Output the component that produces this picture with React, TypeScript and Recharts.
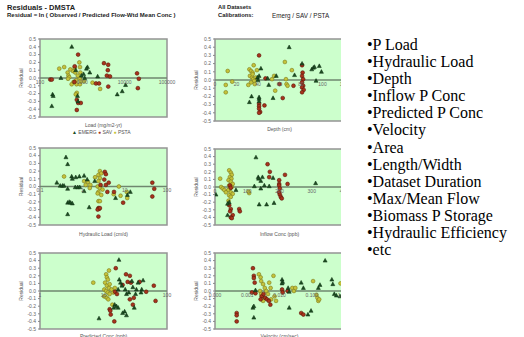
import { ReferenceArea, ReferenceLine, Scatter, ScatterChart, XAxis, YAxis } from "recharts";

type Pt = [number, number];

// residual = ln(observed / predicted), plotted against each site attribute
const loadEmerg: Pt[] = [[563, 0.40], [198, -0.21], [205, -0.23], [190, -0.36], [312, 0.0], [770, -0.23], [790, -0.30], [1320, 0.14], [1250, 0.12], [1070, 0.05], [1140, 0.0], [950, 0.03], [1500, 0.07], [6670, -0.21], [8750, -0.17], [10500, -0.09], [2300, 0.02], [700, 0.10]];
const loadSav: Pt[] = [[795, 0.30], [3240, 0.19], [4080, 0.17], [4000, 0.10], [3800, 0.03], [4500, 0.02], [4100, -0.11], [19600, 0.06], [21600, -0.01], [20500, -0.13], [2100, -0.07], [2480, -0.07], [740, -0.28], [800, -0.32], [920, -0.32], [740, -0.41], [175, -0.02], [190, -0.02], [660, 0.15], [650, -0.05]];
const loadPsta: Pt[] = [[285, 0.12], [373, 0.14], [450, 0.07], [470, 0.03], [490, 0.01], [460, -0.01], [600, 0.09], [660, 0.13], [680, 0.07], [720, -0.03], [730, -0.08], [850, 0.20], [880, 0.14], [900, 0.07], [870, 0.0], [920, -0.04], [880, -0.08], [560, -0.08], [620, -0.05], [740, -0.19], [700, -0.21], [1740, -0.06], [2630, -0.14], [1100, -0.04], [520, 0.11], [780, 0.03]];

const depthEmerg: Pt[] = [[69, 0.40], [42.7, 0.14], [41, 0.05], [39.5, 0.03], [32, -0.27], [34, -0.20], [41, -0.21], [41, -0.23], [41, -0.26], [50, -0.06], [54, -0.22], [49, 0.02], [74, 0.06], [81, 0.20], [90, 0.13], [91.5, 0.15], [92.5, 0.16], [97, 0.17], [99, 0.10], [94, -0.01], [57, 0.05], [40, 0.0]];
const depthSav: Pt[] = [[41, 0.30], [41, -0.29], [41, -0.32], [41, -0.35], [42, -0.39], [41, -0.40], [46, -0.31], [47, 0.02], [63, -0.22], [73, -0.07], [81, 0.18], [81.5, 0.09], [81, 0.05], [82, 0.01], [81, -0.03], [82, -0.07], [81, -0.09], [82.5, -0.12], [81, -0.15], [60, -0.05]];
const depthPsta: Pt[] = [[11.8, 0.11], [10, -0.06], [10, -0.15], [16, -0.02], [32, 0.13], [33.5, 0.11], [35, 0.09], [32.5, 0.05], [34.5, 0.03], [35.5, 0.01], [36.5, -0.01], [33.5, -0.03], [31, -0.06], [36, 0.18], [35, 0.07], [38, 0.03], [37, -0.05], [53, 0.01], [55, 0.05], [56, -0.13], [65, 0.22], [66, 0.01], [66.5, -0.05], [67.5, -0.07], [71.5, 0.12], [39, 0.12]];

const hlrEmerg: Pt[] = [[0.41, 0.38], [0.45, 0.29], [0.25, 0.05], [0.3, 0.01], [0.34, 0.01], [0.37, 0.01], [0.45, -0.03], [0.56, 0.13], [0.58, 0.10], [0.7, 0.12], [0.85, 0.13], [1.1, 0.14], [0.68, -0.01], [0.78, -0.01], [0.87, -0.01], [0.45, -0.21], [0.49, -0.20], [0.53, -0.21], [0.58, -0.22], [0.45, -0.36], [1.1, -0.06], [1.45, -0.27], [1.96, 0.07], [6.1, -0.15], [11.6, -0.11], [13.6, -0.07], [1.3, 0.09]];
const hlrSav: Pt[] = [[3.4, 0.19], [3.6, 0.16], [3.3, 0.09], [2.7, 0.02], [3.6, 0.02], [3.9, -0.07], [2.4, -0.28], [2.5, -0.29], [2.3, -0.30], [2.6, -0.28], [2.4, -0.39], [5.6, -0.07], [9.2, -0.21], [45, 0.05], [50, -0.03], [45, -0.13], [4.2, 0.05]];
const hlrPsta: Pt[] = [[0.37, 0.13], [1.1, 0.07], [1.35, 0.06], [1.55, 0.02], [1.5, -0.02], [1.2, 0.02], [2.4, 0.15], [2.6, 0.20], [2.8, 0.17], [2.6, 0.11], [2.4, 0.07], [2.3, 0.0], [2.6, -0.02], [2.4, -0.07], [2.3, -0.09], [2.8, -0.11], [3.0, -0.04], [2.4, -0.19], [2.6, -0.19], [7.3, 0.0], [8.0, -0.12], [11.5, -0.15], [11.2, -0.07], [5.5, -0.10], [2.0, 0.12]];

const inflowEmerg: Pt[] = [[127, 0.39], [122, 0.01], [134, 0.13], [135, 0.11], [142, 0.08], [147, 0.13], [142, -0.02], [153, 0.02], [137, -0.23], [160, -0.23], [183, -0.21], [180, 0.12], [168, 0.01], [312, 0.05], [65, -0.04], [44, -0.20], [39, -0.22], [3, -0.10], [39, -0.37]];
const inflowSav: Pt[] = [[49, -0.29], [47, -0.32], [55, -0.37], [49, -0.40], [52, -0.41], [44, -0.24], [75, -0.29], [77, -0.32], [46, 0.02], [49, -0.01], [163, 0.30], [170, 0.20], [168, 0.13], [199, 0.09], [199, 0.04], [199, 0.02], [201, -0.02], [199, -0.07], [201, -0.10], [204, -0.13], [207, -0.15], [217, 0.16], [225, 0.04]];
const inflowPsta: Pt[] = [[16, 0.11], [44, 0.22], [49, 0.19], [52, 0.16], [46, 0.13], [51, 0.11], [42, 0.09], [49, 0.07], [55, 0.04], [44, 0.02], [52, 0.0], [46, -0.02], [41, -0.04], [49, -0.07], [55, -0.09], [44, -0.11], [49, -0.13], [42, -0.18], [19, 0.0], [24, -0.02], [29, -0.04], [34, -0.07], [106, -0.08], [104, -0.06]];

const predEmerg: Pt[] = [[17.5, 0.41], [17.7, 0.15], [18.5, 0.11], [19.5, 0.07], [15, -0.18], [16, -0.20], [17, -0.22], [14.5, -0.22], [8.5, -0.36], [17, 0.02], [22, 0.02], [23, -0.04], [25, -0.02], [28, 0.13], [30.5, -0.22], [33, 0.02], [35, 0.11], [40, 0.02], [39, -0.02], [32, -0.04], [42, 0.14], [21.5, -0.27], [23, -0.32], [20, -0.29], [29, 0.05]];
const predSav: Pt[] = [[15.6, 0.30], [22.6, 0.22], [24, 0.12], [26, 0.20], [27, 0.11], [15.2, -0.01], [16.3, -0.04], [12.5, -0.24], [12.8, -0.26], [13, -0.31], [14.8, -0.40], [26, -0.11], [29, -0.18], [30, -0.09], [37, 0.12], [62, 0.07], [66, -0.13], [47, -0.01], [20, 0.08]];
const predPsta: Pt[] = [[6.9, 0.11], [10.2, -0.07], [11, 0.22], [11.3, 0.18], [11.7, 0.15], [10.6, 0.11], [11.3, 0.07], [12.2, 0.04], [10.3, 0.02], [11, 0.0], [11.7, -0.02], [12.5, -0.04], [10.6, -0.07], [11.3, -0.09], [11.9, -0.11], [13.4, 0.02], [14.3, -0.02], [15.1, 0.04], [12.5, 0.09], [13.8, -0.18], [12.2, 0.27]];

const velEmerg: Pt[] = [[0.0015, -0.22], [0.0016, -0.20], [0.0016, -0.35], [0.0018, 0.01], [0.012, 0.15], [0.0125, 0.12], [0.012, 0.10], [0.0185, 0.04], [0.02, -0.01], [0.02, -0.22], [0.047, 0.11], [0.055, 0.04], [0.076, -0.31], [0.095, -0.26], [0.16, 0.04], [0.18, 0.08], [0.26, 0.40], [0.42, 0.15], [0.45, 0.09], [0.5, -0.04], [0.58, -0.06], [0.75, -0.07]];
const velSav: Pt[] = [[0.00047, -0.29], [0.00047, -0.32], [0.00047, -0.40], [0.0015, 0.30], [0.0016, 0.20], [0.0016, 0.17], [0.0017, 0.11], [0.0014, -0.02], [0.0018, -0.03], [0.0028, -0.07], [0.0032, -0.04], [0.0036, -0.09], [0.0041, -0.11], [0.0047, -0.13], [0.0052, -0.18], [0.012, 0.02], [0.0125, -0.02], [0.018, 0.0], [0.047, -0.29], [0.055, -0.31], [0.0026, -0.11]];
const velPsta: Pt[] = [[0.0023, 0.22], [0.0026, 0.18], [0.0027, 0.13], [0.0031, 0.09], [0.0035, 0.04], [0.0039, 0.0], [0.0044, -0.04], [0.0025, 0.0], [0.0027, -0.04], [0.0035, -0.09], [0.0031, -0.13], [0.0055, -0.11], [0.0048, 0.11], [0.0053, 0.04], [0.0065, 0.20], [0.007, -0.07], [0.0078, -0.13], [0.025, 0.04], [0.028, 0.0], [0.031, 0.04], [0.11, 0.13], [0.14, -0.05], [0.15, -0.09], [0.16, -0.13], [0.17, -0.11], [0.78, 0.10]];

const residualTicks = [0.5, 0.4, 0.3, 0.2, 0.1, 0, -0.1, -0.2, -0.3, -0.4, -0.5];
const loadTicks = [100, 1000, 10000, 100000];
const depthTicks = [0, 20, 40, 60, 80, 100, 120];
const hlrTicks = [0.1, 1, 10, 100];
const inflowTicks = [0, 100, 200, 300, 400];
const predTicks = [1, 10, 100];
const velTicks = [0.0001, 0.001, 0.01, 0.1, 1];

const factors = [
  "P Load", "Hydraulic Load", "Depth", "Inflow P Conc", "Predicted P Conc", "Velocity", "Area",
  "Length/Width", "Dataset Duration", "Max/Mean Flow", "Biomass P Storage", "Hydraulic Efficiency", "etc",
];

const EMERG = "#1c4f22";
const SAV = "#a8331b";
const PSTA = "#c4c33a";
const font = "Arial, 'Liberation Sans', sans-serif";

const toXY = (a: Pt[]) => a.map(([x, y]) => ({ x, y }));

const dot = (fill: string, stroke: string) => (p: any) =>
  <circle cx={p.cx} cy={p.cy} r={1.9} fill={fill} stroke={stroke} strokeWidth={0.6} />;

const tri = (p: any) =>
  <polygon points={`${p.cx},${p.cy - 2.2} ${p.cx - 2},${p.cy + 1.5} ${p.cx + 2},${p.cy + 1.5}`} fill={EMERG} stroke="#0c2a10" strokeWidth={0.5} />;

interface PlotProps {
  left: number; top: number; width: number; height: number;
  xDomain: [number, number]; xScale: "log" | "linear"; xTicks: number[];
  xFormat: (v: number) => string; xLabel: string; labelTop: number;
  emerg: Pt[]; sav: Pt[]; psta: Pt[]; clipAt?: number;
}

function ResidualPlot(p: PlotProps) {
  const half = p.height / 2;
  const chartLeft = p.left - 26;
  // x tick labels sit on the zero line, like an axis crossing at y = 0
  const zeroTick = (t: any) => (
    <text x={t.x} y={t.y - half + 5.5} textAnchor="middle" fontSize={5} fill="#666" fontFamily={font}>
      {p.xFormat(t.payload.value)}
    </text>
  );
  return (
    <>
      <div style={{ position: "absolute", left: chartLeft, top: p.top - 4, width: p.clipAt ? p.clipAt - chartLeft : undefined, overflow: "hidden" }}>
        <ScatterChart width={26 + p.width + 10} height={p.height + 10} margin={{ top: 4, right: 10, bottom: 0, left: 0 }}>
          <XAxis type="number" dataKey="x" scale={p.xScale} domain={p.xDomain} ticks={p.xTicks} allowDataOverflow
            axisLine={false} tickLine={false} tickSize={0} tickMargin={0} height={6} interval={0} tick={zeroTick} />
          <YAxis type="number" dataKey="y" domain={[-0.5, 0.5]} ticks={residualTicks} interval={0} width={26}
            axisLine={false} tickSize={2} tickLine={{ stroke: "#888" }} tickFormatter={(v: number) => v.toFixed(1)}
            tick={{ fontSize: 5, fill: "#666", fontFamily: font }}
            label={{ value: "Residual", angle: -90, position: "insideLeft", offset: 7, fontSize: 5, fill: "#555", fontFamily: font, style: { textAnchor: "middle" } }} />
          <ReferenceArea x1={p.xDomain[0]} x2={p.xDomain[1]} y1={-0.5} y2={0.5} fill="#ccffcc" fillOpacity={1} stroke="#949494" strokeWidth={1.5} />
          <ReferenceLine y={0} stroke="#6f876f" strokeWidth={1.5} />
          <Scatter data={toXY(p.psta)} shape={dot(PSTA, "#7d7a1c")} isAnimationActive={false} />
          <Scatter data={toXY(p.sav)} shape={dot(SAV, "#5a160a")} isAnimationActive={false} />
          <Scatter data={toXY(p.emerg)} shape={tri} isAnimationActive={false} />
        </ScatterChart>
      </div>
      <div style={{ position: "absolute", left: p.left, width: p.width, top: p.labelTop, textAlign: "center", fontSize: 5, color: "#555", fontFamily: font, lineHeight: "6px" }}>
        {p.xLabel}
      </div>
    </>
  );
}

export default function App() {
  const small = { position: "absolute" as const, fontFamily: font, color: "#222", whiteSpace: "nowrap" as const };
  return (
    <div style={{ position: "absolute", left: 0, top: 0, width: 524, height: 337, overflow: "hidden", background: "#fff" }}>
      <div style={{ ...small, left: 7, top: 3, fontSize: 7.5, fontWeight: "bold", lineHeight: "9px" }}>Residuals - DMSTA</div>
      <div style={{ ...small, left: 7, top: 12, fontSize: 6, fontWeight: "bold", lineHeight: "7px" }}>Residual = ln ( Observed / Predicted Flow-Wtd Mean Conc )</div>
      <div style={{ ...small, left: 218, top: 3, fontSize: 5.8, fontWeight: "bold", lineHeight: "8px" }}>All Datasets</div>
      <div style={{ ...small, left: 218, top: 12, fontSize: 5.8, fontWeight: "bold", lineHeight: "7px" }}>Calibrations:</div>
      <div style={{ ...small, left: 272, top: 12, fontSize: 6.3, lineHeight: "7px" }}>Emerg / SAV / PSTA</div>

      <ResidualPlot left={40} top={39} width={127} height={78} xDomain={[100, 100000]} xScale="log" xTicks={loadTicks}
        xFormat={String} xLabel="Load (mg/m2-yr)" labelTop={122} emerg={loadEmerg} sav={loadSav} psta={loadPsta} />
      <div style={{ ...small, left: 72, top: 129, fontSize: 5, color: "#555", lineHeight: "6px" }}>
        <span style={{ color: EMERG }}>▲</span> EMERG <span style={{ color: SAV }}>●</span> SAV <span style={{ color: PSTA }}>●</span> PSTA
      </div>
      <ResidualPlot left={215} top={39} width={129} height={82} xDomain={[0, 120]} xScale="linear" xTicks={depthTicks}
        xFormat={String} xLabel="Depth (cm)" labelTop={126} emerg={depthEmerg} sav={depthSav} psta={depthPsta} clipAt={341} />

      <ResidualPlot left={40} top={148} width={127} height={77} xDomain={[0.1, 100]} xScale="log" xTicks={hlrTicks}
        xFormat={String} xLabel="Hydraulic Load (cm/d)" labelTop={231} emerg={hlrEmerg} sav={hlrSav} psta={hlrPsta} />
      <ResidualPlot left={215} top={149} width={129} height={76} xDomain={[0, 400]} xScale="linear" xTicks={inflowTicks}
        xFormat={String} xLabel="Inflow Conc (ppb)" labelTop={231} emerg={inflowEmerg} sav={inflowSav} psta={inflowPsta} clipAt={341} />

      <ResidualPlot left={40} top={253} width={127} height={76} xDomain={[1, 100]} xScale="log" xTicks={predTicks}
        xFormat={String} xLabel="Predicted Conc (ppb)" labelTop={333} emerg={predEmerg} sav={predSav} psta={predPsta} />
      <ResidualPlot left={215} top={253} width={129} height={76} xDomain={[0.0001, 1]} xScale="log" xTicks={velTicks}
        xFormat={(v) => v.toFixed(3)} xLabel="Velocity (cm/sec)" labelTop={333} emerg={velEmerg} sav={velSav} psta={velPsta} clipAt={341} />

      <div style={{ position: "absolute", left: 367, top: 36, fontFamily: "'Times New Roman', 'Liberation Serif', serif", fontSize: 16, lineHeight: "17.1px", color: "#000", whiteSpace: "nowrap" }}>
        {factors.map((f) => <div key={f}>•{f}</div>)}
      </div>
    </div>
  );
}
